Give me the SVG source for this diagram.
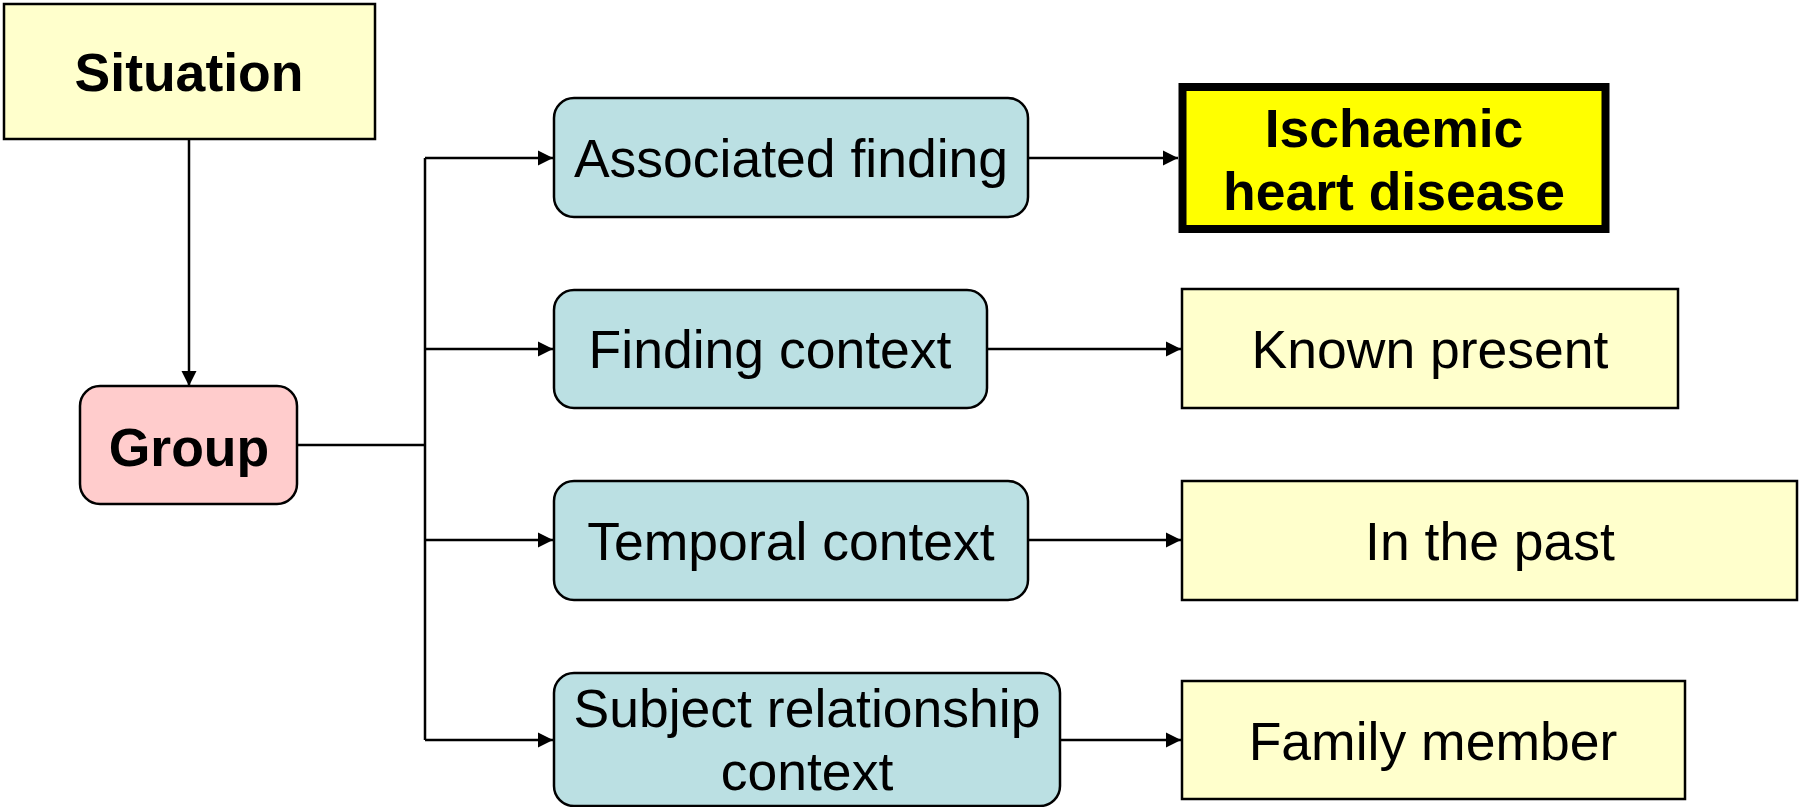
<svg xmlns="http://www.w3.org/2000/svg" width="1799" height="807" viewBox="0 0 1799 807">
<defs>
<style>
.box{stroke:#000;stroke-width:2.5}
.yel{fill:#FFFFCC}
.teal{fill:#BBE0E3}
.pink{fill:#FFCCCC}
.t{font-family:"Liberation Sans",Arial,sans-serif;font-size:53.5px;fill:#000;text-anchor:middle}
.b{font-weight:bold}
.c{fill:none;stroke:#000;stroke-width:2.5}
</style>
<marker id="ah" markerUnits="userSpaceOnUse" markerWidth="16" markerHeight="16" viewBox="0 0 16 16" refX="15" refY="8" orient="auto">
<path d="M0 0.5 L15 8 L0 15.5 Z" fill="#000"/>
</marker>
</defs>
<rect width="1799" height="807" fill="#fff"/>
<g id="connectors">
<path class="c" d="M189 139 V386" marker-end="url(#ah)"/>
<path class="c" d="M297 445 H425"/>
<path class="c" d="M425 158 V740"/>
<path class="c" d="M425 158 H553" marker-end="url(#ah)"/>
<path class="c" d="M425 349 H553" marker-end="url(#ah)"/>
<path class="c" d="M425 540 H553" marker-end="url(#ah)"/>
<path class="c" d="M425 740 H553" marker-end="url(#ah)"/>
<path class="c" d="M1028 158 H1178" marker-end="url(#ah)"/>
<path class="c" d="M987 349 H1181" marker-end="url(#ah)"/>
<path class="c" d="M1028 540 H1181" marker-end="url(#ah)"/>
<path class="c" d="M1060 740 H1181" marker-end="url(#ah)"/>
</g>
<g id="situation">
<rect class="box yel" x="4" y="4" width="371" height="135"/>
<text class="t b" x="189" y="91">Situation</text>
</g>
<g id="group">
<rect class="box pink" x="80" y="386" width="217" height="118" rx="20"/>
<text class="t b" x="189" y="466">Group</text>
</g>
<g id="associated-finding">
<rect class="box teal" x="554" y="98" width="474" height="119" rx="20"/>
<text class="t" x="791" y="177">Associated finding</text>
</g>
<g id="finding-context">
<rect class="box teal" x="554" y="290" width="433" height="118" rx="20"/>
<text class="t" x="770" y="368">Finding context</text>
</g>
<g id="temporal-context">
<rect class="box teal" x="554" y="481" width="474" height="119" rx="20"/>
<text class="t" x="791" y="560">Temporal context</text>
</g>
<g id="subject-relationship-context">
<rect class="box teal" x="554" y="673" width="506" height="133" rx="20"/>
<text class="t" x="807" y="727">Subject relationship</text>
<text class="t" x="807" y="790">context</text>
</g>
<g id="ischaemic-heart-disease">
<rect x="1182.5" y="87" width="423" height="142" fill="#FFFF00" stroke="#000" stroke-width="8"/>
<text class="t b" x="1394" y="147">Ischaemic</text>
<text class="t b" x="1394" y="210">heart disease</text>
</g>
<g id="known-present">
<rect class="box yel" x="1182" y="289" width="496" height="119"/>
<text class="t" x="1430" y="368">Known present</text>
</g>
<g id="in-the-past">
<rect class="box yel" x="1182" y="481" width="615" height="119"/>
<text class="t" x="1490" y="560">In the past</text>
</g>
<g id="family-member">
<rect class="box yel" x="1182" y="681" width="503" height="118"/>
<text class="t" x="1433" y="760">Family member</text>
</g>
</svg>
